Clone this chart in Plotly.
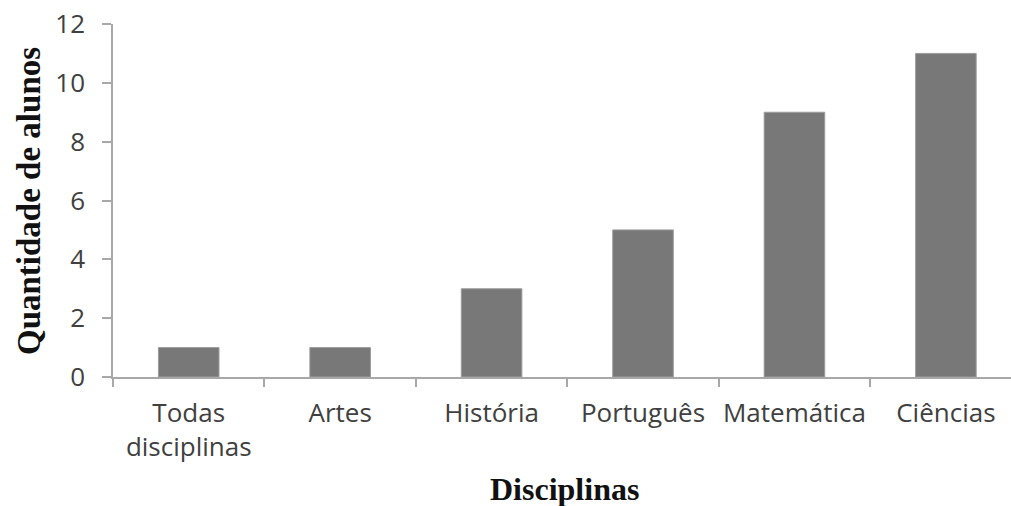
import plotly.graph_objects as go

# Number of students per subject
disciplinas = ["Todas<br>disciplinas", "Artes", "História", "Português", "Matemática", "Ciências"]
alunos = [1, 1, 3, 5, 9, 11]

y_ticks = [0, 2, 4, 6, 8, 10, 12]

fig = go.Figure(
    go.Bar(
        x=disciplinas,
        y=alunos,
        width=0.4,
        marker=dict(color="#787878", line=dict(color="#9c9c9c", width=1)),
    )
)

axis_color = "#a8a8a8"
tick_font = dict(family="Open Sans", size=26, color="#404040")

fig.update_xaxes(
    range=[-0.5, 5.43],
    showline=True,
    linecolor=axis_color,
    linewidth=1.5,
    ticks="outside",
    tickson="boundaries",
    ticklen=8,
    tickcolor=axis_color,
    tickwidth=1.5,
    tickfont=tick_font,
    tickangle=0,
    ticklabelstandoff=12,
    automargin=False,
    showgrid=False,
    zeroline=False,
)
fig.update_yaxes(
    range=[0, 12],
    tickvals=y_ticks,
    showline=True,
    linecolor=axis_color,
    linewidth=1.5,
    ticks="outside",
    ticklen=9,
    tickcolor=axis_color,
    tickwidth=1.5,
    tickfont=tick_font,
    ticklabelstandoff=12,
    automargin=False,
    showgrid=False,
    zeroline=False,
)

title_font = dict(family="Liberation Serif", size=32, color="#111111")
fig.update_layout(
    width=1011,
    height=506,
    margin=dict(l=113, r=0, t=24, b=129),
    plot_bgcolor="white",
    paper_bgcolor="white",
    showlegend=False,
    annotations=[
        dict(
            text="<b>Disciplinas</b>",
            xref="paper", yref="paper",
            x=0.5033, y=-0.316,
            xanchor="center", yanchor="middle",
            showarrow=False,
            font=title_font,
        ),
        dict(
            text="<b>Quantidade de alunos</b>",
            xref="paper", yref="paper",
            x=-0.0935, y=0.4986,
            xanchor="center", yanchor="middle",
            textangle=-90,
            showarrow=False,
            font=dict(family="Liberation Serif", size=33, color="#111111"),
        ),
    ],
)

fig.write_html("out.html")
